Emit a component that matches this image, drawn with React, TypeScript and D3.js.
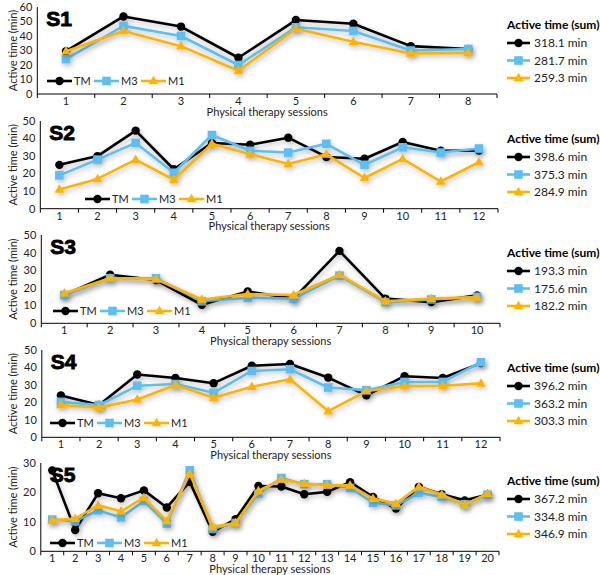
import React from "react";
import * as d3 from "d3";

const seriesNames = ["TM", "M3", "M1"];
const seriesColors = ["#000000", "#5bbff4", "#ffb300"];
const panelNames = ["S1", "S2", "S3", "S4", "S5"];
const yMaxes = [60, 50, 50, 50, 30];
const legendTitle = "Active time (sum)";
const xTitle = "Physical therapy sessions";
const yTitle = "Active time (min)";

const sessionsS1 = [1, 2, 3, 4, 5, 6, 7, 8];
const s1TM = [29.5, 53.5, 46.5, 25, 51, 48.5, 33, 31];
const s1M3 = [24, 47, 40, 20, 46, 43.5, 30, 31];
const s1M1 = [29.5, 43.5, 33, 16, 45, 36, 28, 28.3];
const sumsS1 = ["318.1 min", "281.7 min", "259.3 min"];

const sessionsS2 = [1, 2, 3, 4, 5, 6, 7, 8, 9, 10, 11, 12];
const s2TM = [25, 30, 44.5, 22.5, 37.5, 36.5, 40.5, 29.5, 28.5, 38, 33, 33.1];
const s2M3 = [19, 28, 37.5, 20.5, 42, 33, 32, 37, 25, 35, 32, 34.3];
const s2M1 = [11, 17, 28, 16.5, 37, 31, 25.5, 31, 17.5, 28.4, 15.5, 26.5];
const sumsS2 = ["398.6 min", "375.3 min", "284.9 min"];

const sessionsS3 = [1, 2, 3, 4, 5, 6, 7, 8, 9, 10];
const s3TM = [16, 27.5, 24.5, 10.5, 18, 14, 41, 14, 12, 15.8];
const s3M3 = [16, 25.5, 25.5, 12.5, 14.5, 14, 27, 12, 13.5, 15];
const s3M1 = [17, 25.5, 25, 13.5, 16.5, 16, 27.5, 12.5, 14, 14.7];
const sumsS3 = ["193.3 min", "175.6 min", "182.2 min"];

const sessionsS4 = [1, 2, 3, 4, 5, 6, 7, 8, 9, 10, 11, 12];
const s4TM = [24, 18.5, 36, 34, 31, 41, 42, 34.2, 24, 35, 34, 42.5];
const s4M3 = [20.3, 18.5, 29.5, 30.5, 25.5, 38, 39, 28.5, 27, 31.7, 31.7, 43];
const s4M1 = [18.5, 17, 21.7, 30, 22.7, 29, 33.2, 15, 26.5, 29.3, 29.5, 30.9];
const sumsS4 = ["396.2 min", "363.2 min", "303.3 min"];

const sessionsS5 = [1, 2, 3, 4, 5, 6, 7, 8, 9, 10, 11, 12, 13, 14, 15, 16, 17, 18, 19, 20];
const s5TM = [27.5, 7.2, 19.7, 18, 20.7, 14.9, 23.6, 6.6, 10.9, 22.2, 22, 19.4, 20.2, 23.5, 18.5, 14.5, 21.9, 19.4, 17.3, 19.2];
const s5M3 = [10.8, 10.2, 13.9, 11.5, 17.1, 9.4, 27.5, 7.6, 9.6, 19.6, 24.9, 22.8, 22.8, 21.5, 16.5, 15.6, 19.8, 18.5, 16, 19.2];
const s5M1 = [10.5, 11.1, 15.6, 13.6, 18.2, 10.3, 26.4, 8.3, 9.6, 20.5, 24.4, 23, 22.4, 22.4, 17.9, 16.2, 21.9, 19.2, 15.8, 19.6];
const sumsS5 = ["367.2 min", "334.8 min", "346.9 min"];

const panelSessions = [sessionsS1, sessionsS2, sessionsS3, sessionsS4, sessionsS5];
const panelSeries = [
  [s1TM, s1M3, s1M1],
  [s2TM, s2M3, s2M1],
  [s3TM, s3M3, s3M1],
  [s4TM, s4M3, s4M1],
  [s5TM, s5M3, s5M1],
];
const panelSums = [sumsS1, sumsS2, sumsS3, sumsS4, sumsS5];

// layout (pixels)
const layout = [
  { top: 7, bottom: 94, left: 37.3, right: 497, legX: 47, legY: 81 },
  { top: 121, bottom: 208.7, left: 40.3, right: 498, legX: 85, legY: 199 },
  { top: 235, bottom: 323.3, left: 41.3, right: 500, legX: 53, legY: 311 },
  { top: 350, bottom: 437.3, left: 41.8, right: 500, legX: 50, legY: 423 },
  { top: 463, bottom: 551.3, left: 40.8, right: 499, legX: 50, legY: 543 },
];

const FONT = "Lato, 'Open Sans', sans-serif";

function Marker({ kind, x, y, color }: { kind: number; x: number; y: number; color: string }) {
  if (kind === 0) return <circle cx={x} cy={y} r={4.2} fill={color} />;
  if (kind === 1) return <rect x={x - 4.3} y={y - 4.3} width={8.6} height={8.6} fill={color} />;
  const p = d3.symbol(d3.symbolTriangle, 42)();
  return <path d={p || ""} transform={`translate(${x},${y + 0.5})`} fill={color} />;
}

function Panel({ idx }: { idx: number }) {
  const L = layout[idx];
  const sessions = panelSessions[idx];
  const x = d3.scaleBand<number>().domain(sessions).range([L.left, L.right]);
  const y = d3.scaleLinear().domain([0, yMaxes[idx]]).range([L.bottom, L.top]);
  const yTicks = d3.range(0, yMaxes[idx] + 0.001, 10);
  const bw = x.bandwidth();
  const cx = (s: number) => (x(s) as number) + bw / 2;
  const line = d3
    .line<number>()
    .x((_, i) => cx(sessions[i]))
    .y((d) => y(d));
  const boundaries = sessions.map((s) => x(s) as number).concat([L.right]);
  const midY = (L.top + L.bottom) / 2;
  const midX = (L.left + L.right) / 2;
  const lx = 507;
  return (
    <g>
      <line x1={L.left} x2={L.left} y1={L.top} y2={L.bottom} stroke="#000" strokeWidth={1} />
      <line x1={L.left} x2={L.right} y1={L.bottom} y2={L.bottom} stroke="#000" strokeWidth={1} />
      {boundaries.map((b, i) => (
        <line key={i} x1={b} x2={b} y1={L.bottom} y2={L.bottom + 4} stroke="#000" strokeWidth={1} />
      ))}
      {yTicks.map((t) => (
        <text key={t} x={L.left - 5} y={y(t)} dy="0.35em" textAnchor="end" fontSize={11} fontFamily={FONT} fill="#222">
          {t}
        </text>
      ))}
      {sessions.map((s) => (
        <text key={s} x={cx(s)} y={L.bottom + 11} textAnchor="middle" fontSize={11} fontFamily={FONT} fill="#222">
          {s}
        </text>
      ))}
      <text x={midX} y={L.bottom + 21.5} textAnchor="middle" fontSize={11} fontFamily={FONT} fill="#222">
        {xTitle}
      </text>
      <text
        transform={`translate(13,${midY}) rotate(-90)`}
        textAnchor="middle"
        dy="0.35em"
        fontSize={11}
        fontFamily={FONT}
        fill="#222"
      >
        {yTitle}
      </text>
      <text
        x={L.left + 9}
        y={L.top + 18.5}
        fontSize={21}
        fontWeight={700}
        fontFamily="'Liberation Sans', Arial, sans-serif"
        fill="#000"
        stroke="#000"
        strokeWidth={0.9}
      >
        {panelNames[idx]}
      </text>
      {panelSeries[idx].map((vals, k) => (
        <g key={k} filter="url(#shadow)">
          <path d={line(vals) || ""} fill="none" stroke={seriesColors[k]} strokeWidth={2.6} strokeLinejoin="round" />
          {vals.map((v, i) => (
            <Marker key={i} kind={k} x={cx(sessions[i])} y={y(v)} color={seriesColors[k]} />
          ))}
        </g>
      ))}
      {seriesNames.map((n, k) => {
        const x0 = L.legX + k * 47;
        return (
          <g key={n}>
            <line x1={x0} x2={x0 + 25} y1={L.legY} y2={L.legY} stroke={seriesColors[k]} strokeWidth={2.6} />
            <Marker kind={k} x={x0 + 12.5} y={L.legY} color={seriesColors[k]} />
            <text x={x0 + 27} y={L.legY} dy="0.35em" fontSize={11} fontFamily={FONT} fill="#222">
              {n}
            </text>
          </g>
        );
      })}
      <text x={lx} y={L.top + 18} dy="0.35em" fontSize={12} fontWeight={700} fontFamily={FONT} fill="#000">
        {legendTitle}
      </text>
      {seriesNames.map((n, k) => {
        const yy = L.top + 36 + k * 17.5;
        return (
          <g key={n}>
            <line x1={lx} x2={lx + 23} y1={yy} y2={yy} stroke={seriesColors[k]} strokeWidth={2.6} />
            <Marker kind={k} x={lx + 11.5} y={yy} color={seriesColors[k]} />
            <text x={lx + 27} y={yy} dy="0.35em" fontSize={12} fontFamily={FONT} fill="#222">
              {panelSums[idx][k]}
            </text>
          </g>
        );
      })}
    </g>
  );
}

export default function App() {
  return (
    <svg width={600} height={575} style={{ position: "absolute", left: 0, top: 0, background: "#fff" }}>
      <defs>
        <filter id="shadow" x="-5%" y="-30%" width="110%" height="170%">
          <feDropShadow dx={1.5} dy={2.5} stdDeviation={2.5} floodColor="#000" floodOpacity={0.25} />
        </filter>
      </defs>
      <rect width={600} height={575} fill="#fff" />
      {panelNames.map((_, i) => (
        <Panel key={i} idx={i} />
      ))}
    </svg>
  );
}
